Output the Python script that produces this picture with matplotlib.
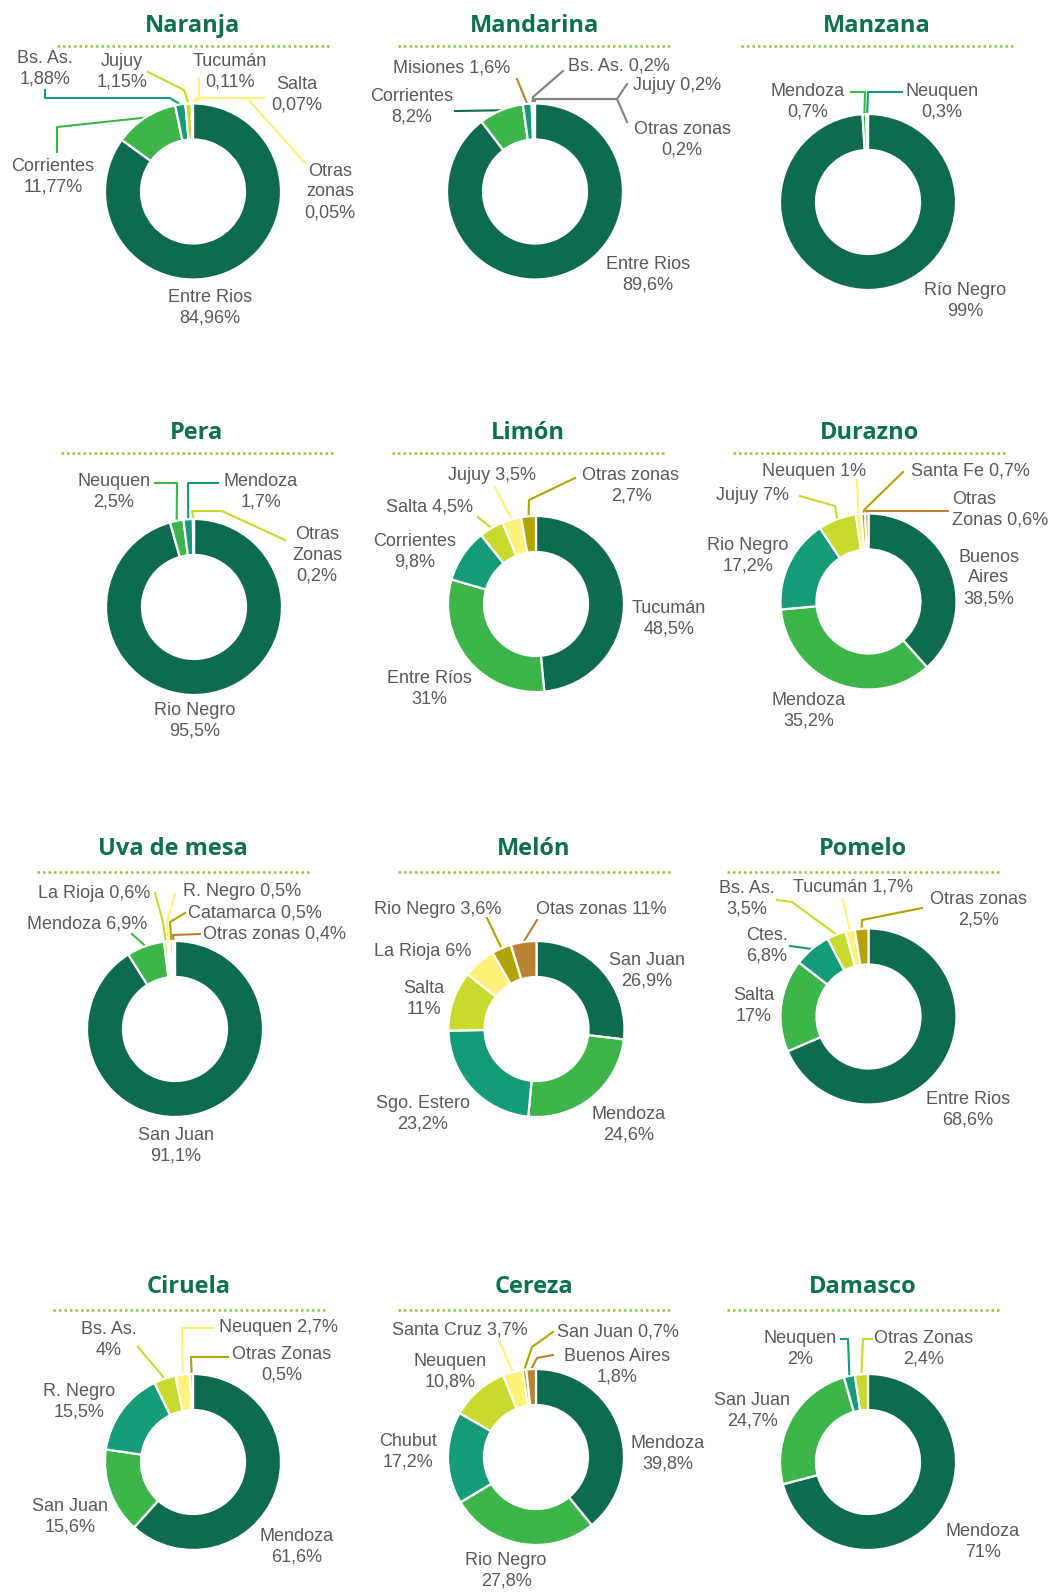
import numpy as np
import matplotlib.pyplot as plt

W, H = 1050, 1595

# colours
DG, MG, TE, YG = '#0E6B4F', '#3DB54A', '#159B77', '#C8DA2E'
PY, OL, BR, GR = '#FFF27A', '#B3A300', '#B88232', '#7F7F7F'
TXT = '#595959'
TITLE = '#0D7050'
DOTS = '#8DC63F'

fruits = ['Naranja', 'Mandarina', 'Manzana', 'Pera', 'Limón', 'Durazno',
          'Uva de mesa', 'Melón', 'Pomelo', 'Ciruela', 'Cereza', 'Damasco']

naranja_names = ['Entre Rios', 'Corrientes', 'Bs. As.', 'Jujuy', 'Tucumán', 'Salta', 'Otras\nzonas']
naranja_values = [84.96, 11.77, 1.88, 1.15, 0.11, 0.07, 0.05]

mandarina_names = ['Entre Rios', 'Corrientes', 'Misiones', 'Bs. As.', 'Jujuy', 'Otras zonas']
mandarina_values = [89.6, 8.2, 1.6, 0.2, 0.2, 0.2]

manzana_names = ['Río Negro', 'Mendoza', 'Neuquen']
manzana_values = [99, 0.7, 0.3]

pera_names = ['Rio Negro', 'Neuquen', 'Mendoza', 'Otras\nZonas']
pera_values = [95.5, 2.5, 1.7, 0.2]

limon_names = ['Tucumán', 'Entre Ríos', 'Corrientes', 'Salta', 'Jujuy', 'Otras zonas']
limon_values = [48.5, 31, 9.8, 4.5, 3.5, 2.7]

durazno_names = ['Buenos\nAires', 'Mendoza', 'Rio Negro', 'Jujuy', 'Neuquen', 'Santa Fe', 'Otras\nZonas']
durazno_values = [38.5, 35.2, 17.2, 7, 1, 0.7, 0.6]

uva_names = ['San Juan', 'Mendoza', 'La Rioja', 'R. Negro', 'Catamarca', 'Otras zonas']
uva_values = [91.1, 6.9, 0.6, 0.5, 0.5, 0.4]

melon_names = ['San Juan', 'Mendoza', 'Sgo. Estero', 'Salta', 'La Rioja', 'Rio Negro', 'Otas zonas']
melon_values = [26.9, 24.6, 23.2, 11, 6, 3.6, 4.7]      # slice as drawn
melon_printed = [26.9, 24.6, 23.2, 11, 6, 3.6, 11]      # as printed in the label

pomelo_names = ['Entre Rios', 'Salta', 'Ctes.', 'Bs. As.', 'Tucumán', 'Otras zonas']
pomelo_values = [68.6, 17, 6.8, 3.5, 1.7, 2.5]

ciruela_names = ['Mendoza', 'San Juan', 'R. Negro', 'Bs. As.', 'Neuquen', 'Otras Zonas']
ciruela_values = [61.6, 15.6, 15.5, 4, 2.7, 0.5]

cereza_names = ['Mendoza', 'Rio Negro', 'Chubut', 'Neuquen', 'Santa Cruz', 'San Juan', 'Buenos Aires']
cereza_values = [39.8, 27.8, 17.2, 10.8, 3.7, 0.7, 1.8]

damasco_names = ['Mendoza', 'San Juan', 'Neuquen', 'Otras Zonas']
damasco_values = [71, 24.7, 2, 2.4]

data = [
    (naranja_names, naranja_values, naranja_values),
    (mandarina_names, mandarina_values, mandarina_values),
    (manzana_names, manzana_values, manzana_values),
    (pera_names, pera_values, pera_values),
    (limon_names, limon_values, limon_values),
    (durazno_names, durazno_values, durazno_values),
    (uva_names, uva_values, uva_values),
    (melon_names, melon_values, melon_printed),
    (pomelo_names, pomelo_values, pomelo_values),
    (ciruela_names, ciruela_values, ciruela_values),
    (cereza_names, cereza_values, cereza_values),
    (damasco_names, damasco_values, damasco_values),
]

# ---- layout (pixel coordinates, y downwards) ----
R, RING = 88, 36
centers = [(193, 191.5), (535, 191.5), (868, 202),
           (194, 607), (536, 604), (868.5, 601.5),
           (175, 1029), (536.5, 1029), (868.5, 1016.5),
           (193, 1462), (536, 1457), (868, 1462)]
title_base = [32, 439, 855, 1293]
dots_y = [46, 453, 872, 1310]
dots_x = [192.5, 534, 876.5, 196.7, 527.5, 869, 173, 534, 862.5, 189, 534, 862.5]

colors = [
    [DG, MG, TE, YG, PY, PY, PY],
    [DG, MG, TE, PY, PY, PY],
    [DG, MG, TE],
    [DG, MG, TE, YG],
    [DG, MG, TE, YG, PY, OL],
    [DG, MG, TE, YG, PY, OL, BR],
    [DG, MG, YG, PY, OL, BR],
    [DG, MG, TE, YG, PY, OL, BR],
    [DG, MG, TE, YG, PY, OL],
    [DG, MG, TE, YG, PY, OL],
    [DG, MG, TE, YG, PY, OL, BR],
    [DG, MG, TE, YG],
]
line_colors = {1: [None, DG, BR, GR, GR, GR]}

# per label: x, y, ha, separator, leader path
layouts = [
    [(210, 308, 'center', '\n', None),
     (53, 177, 'center', '\n', [(57, 127), (57, 152)]),
     (45, 69, 'center', '\n', [(170, 98), (45, 98), (45, 90)]),
     (122, 72, 'center', '\n', [(184, 90), (148, 72)]),
     (230, 72, 'center', '\n', [(199, 98), (199, 78)]),
     (297, 95, 'center', '\n', [(196, 98), (264, 98)]),
     (330, 192, 'center', '\n', [(200, 98), (247, 98), (305, 163)])],
    [(648, 275, 'center', '\n', None),
     (412, 107, 'center', '\n', [(455, 111)]),
     (452, 68, 'center', ' ', [(517, 79)]),
     (568, 66, 'left', ' ', [(533, 97), (563, 71)]),
     (633, 86, 'left', ' ', [(535, 99), (617, 99), (627, 84)]),
     (682, 140, 'center', '\n', [(535, 99), (617, 99), (627, 122)])],
    [(965, 301, 'center', '\n', None),
     (808, 102, 'center', '\n', [(865, 92), (851, 92)]),
     (942, 102, 'center', '\n', [(868, 92), (902, 92)])],
    [(195, 721, 'center', '\n', None),
     (114, 492, 'center', '\n', [(177, 483), (155, 483)]),
     (261, 492, 'center', '\n', [(188, 483), (218, 483)]),
     (317, 555, 'center', '\n', [(192, 511), (222, 511), (285, 540)])],
    [(669, 619, 'center', '\n', None),
     (429, 689, 'center', '\n', None),
     (415, 552, 'center', '\n', None),
     (429, 507, 'center', ' ', [(478, 517)]),
     (492, 475, 'center', ' ', [(495, 487)]),
     (631, 486, 'center', '\n', [(529, 500), (575, 478)])],
    [(989, 578, 'center', '\n', None),
     (809, 711, 'center', '\n', None),
     (748, 556, 'center', '\n', None),
     (752, 496, 'center', ' ', [(835, 506), (800, 496)]),
     (814, 471, 'center', ' ', [(857, 480)]),
     (970, 471, 'center', ' ', [(864, 510), (903, 472)]),
     (952, 510, 'left', ' ', [(866, 511), (948, 511)])],
    [(176, 1146, 'center', '\n', None),
     (147, 924, 'right', ' ', [(132, 934)]),
     (150, 893, 'right', ' ', [(163, 922), (155, 893)]),
     (183, 892, 'left', ' ', [(167, 922), (175, 894)]),
     (188, 913, 'left', ' ', [(170, 922), (185, 913)]),
     (203, 934, 'left', ' ', [(173, 935), (200, 934)])],
    [(647, 971, 'center', '\n', None),
     (629, 1125, 'center', '\n', None),
     (423, 1114, 'center', '\n', None),
     (424, 999, 'center', '\n', None),
     (423, 952, 'center', ' ', None),
     (438, 910, 'center', ' ', [(487, 918)]),
     (601, 910, 'center', ' ', [(537, 920)])],
    [(968, 1110, 'center', '\n', None),
     (754, 1006, 'center', '\n', None),
     (767, 946, 'center', '\n', [(790, 946)]),
     (747, 899, 'center', '\n', [(792, 902), (777, 900)]),
     (853, 887, 'center', ' ', [(843, 900)]),
     (979, 910, 'center', '\n', [(862, 920), (922, 908)])],
    [(297, 1547, 'center', '\n', None),
     (70, 1517, 'center', '\n', None),
     (79, 1402, 'center', '\n', None),
     (109, 1340, 'center', '\n', [(138, 1347)]),
     (278, 1328, 'center', ' ', [(182, 1328), (213, 1328)]),
     (282, 1365, 'center', '\n', [(191, 1357), (228, 1357)])],
    [(668, 1454, 'center', '\n', None),
     (506, 1571, 'center', '\n', None),
     (408, 1452, 'center', '\n', None),
     (450, 1372, 'center', '\n', None),
     (460, 1330, 'center', ' ', [(500, 1342)]),
     (618, 1332, 'center', ' ', [(532, 1347), (553, 1332)]),
     (617, 1367, 'center', '\n', [(537, 1358), (553, 1355)])],
    [(983, 1542, 'center', '\n', None),
     (752, 1411, 'center', '\n', None),
     (800, 1349, 'center', '\n', [(848, 1339), (841, 1339)]),
     (924, 1349, 'center', '\n', [(863, 1339), (872, 1339)])],
]


def pct(v):
    return f'{v:g}'.replace('.', ',') + '%'


fig = plt.figure(figsize=(W / 100, H / 100), dpi=100)
ax = fig.add_axes([0, 0, 1, 1])

for i, fruit in enumerate(fruits):
    names, values, printed = data[i]
    cx, cy = centers[i]
    row = i // 3

    # title + dotted rule
    ax.text(dots_x[i], title_base[row], fruit, ha='center', va='baseline',
            fontsize=17, fontweight='bold', color=TITLE, family=['Open Sans', 'DejaVu Sans'])
    ax.plot([dots_x[i] - 136, dots_x[i] + 136], [dots_y[row]] * 2, color=DOTS,
            lw=1.8, linestyle=(0, (1, 1.2)))

    # y axis runs downwards, so start at -90 and go counterclockwise
    wedges, _ = ax.pie(values, colors=colors[i], radius=R, center=(cx, cy),
                       startangle=-90, counterclock=True,
                       wedgeprops=dict(width=RING, edgecolor='white', linewidth=1.6))

    lcols = line_colors.get(i, [None] * len(values))
    for j, w in enumerate(wedges):
        x, y, ha, sep, path = layouts[i][j]
        ax.text(x, y, names[j] + sep + pct(printed[j]), ha=ha, va='center',
                fontsize=13, color=TXT, linespacing=1.27,
                family=['Liberation Sans', 'DejaVu Sans'])
        if path:
            mid = np.deg2rad((w.theta1 + w.theta2) / 2)
            pts = [(cx + R * np.cos(mid), cy + R * np.sin(mid))] + path
            xs, ys = zip(*pts)
            ax.plot(xs, ys, color=lcols[j] or colors[i][j], lw=1.5, zorder=0.5)

ax.set_xlim(0, W)
ax.set_ylim(H, 0)
ax.axis('off')

fig.savefig('out.png', dpi=100, facecolor='white')
